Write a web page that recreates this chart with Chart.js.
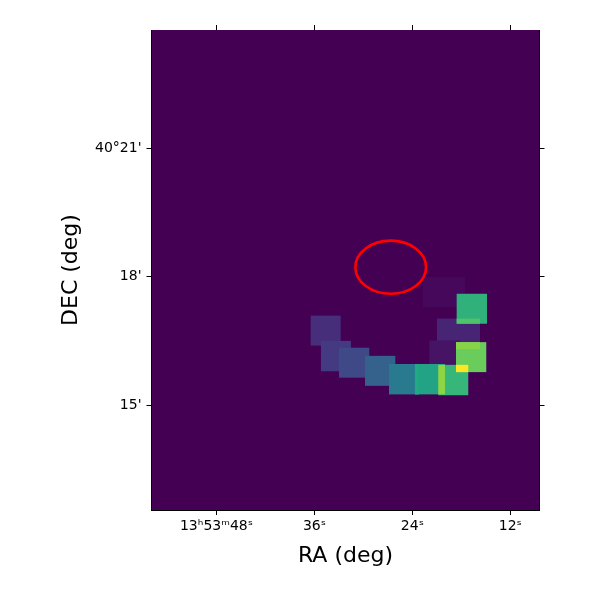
<!DOCTYPE html>
<html>
<head>
<meta charset="utf-8">
<script src="https://cdn.jsdelivr.net/npm/chart.js@4.4.0/dist/chart.umd.min.js"></script>
<style>
  html, body { margin: 0; padding: 0; background: #fff; }
</style>
</head>
<body>
<canvas id="sky" width="600" height="600"></canvas>
<script>
// RA in seconds past 13h53m, DEC in arcmin past 40deg
const raRange = [8.42, 55.96];
const decRange = [12.55, 23.76];
const raTicks = [48, 36, 24, 12];
const raTickLabels = ['13ʰ53ᵐ48ˢ', '36ˢ', '24ˢ', '12ˢ'];
const decTicks = [15, 18, 21];
const decTickLabels = ["15'", "18'", "40°21'"];

// image tiles: east/west RA edge, low/high DEC edge, level (0..1 of colour map)
const tileRaEast  = [22.70, 20.98, 21.92, 36.46, 35.20, 32.99, 29.80, 26.86, 23.68, 20.82, 18.65, 18.57];
const tileRaWest  = [17.55, 15.71, 18.10, 32.78, 31.52, 29.28, 26.09, 23.19, 20.00, 17.15, 14.94, 14.85];
const tileDecLow  = [17.29, 16.31, 15.79, 16.39, 15.79, 15.64, 15.45, 15.25, 15.25, 15.23, 15.77, 16.90];
const tileDecHigh = [17.99, 17.02, 16.51, 17.09, 16.50, 16.34, 16.15, 15.96, 15.96, 15.94, 16.47, 17.60];
const tileLevel   = [0.02, 0.10, 0.05, 0.13, 0.17, 0.22, 0.31, 0.41, 0.58, 0.66, 0.77, 0.64];

// where two tiles stack (indices into the tiles above) and the level there
const overlapA = [7, 8, 9, 11, 10];
const overlapB = [8, 9, 10, 1, 1];
const overlapLevel = [0.60, 0.83, 1.0, 0.72, 0.82];

// source region
const regionRa = 26.65, regionDec = 18.22;
const regionRaRadius = 4.33, regionDecRadius = 0.62;

// viridis stops
const cmap = ['#440154', '#482475', '#414487', '#355f8d', '#2a788e', '#21918c',
              '#22a884', '#44bf70', '#7ad151', '#bddf26', '#fde725'];

function hexRgb(h) {
  return [1, 3, 5].map(i => parseInt(h.substr(i, 2), 16));
}
function viridis(t) {
  t = Math.max(0, Math.min(1, t)) * (cmap.length - 1);
  const i = Math.min(Math.floor(t), cmap.length - 2);
  const f = t - i;
  const a = hexRgb(cmap[i]), b = hexRgb(cmap[i + 1]);
  const c = a.map((v, k) => Math.round(v + (b[k] - v) * f));
  return `rgb(${c[0]},${c[1]},${c[2]})`;
}

const imagePlugin = {
  id: 'image',
  beforeDatasetsDraw(chart) {
    const { ctx, chartArea: a, scales: { x, y } } = chart;
    ctx.save();
    ctx.beginPath();
    ctx.rect(a.left, a.top, a.right - a.left, a.bottom - a.top);
    ctx.clip();
    ctx.fillStyle = viridis(0);
    ctx.fillRect(a.left, a.top, a.right - a.left, a.bottom - a.top);

    const box = (east, west, lo, hi, lvl) => {
      const x0 = x.getPixelForValue(east), x1 = x.getPixelForValue(west);
      const y0 = y.getPixelForValue(hi), y1 = y.getPixelForValue(lo);
      ctx.fillStyle = viridis(lvl);
      ctx.fillRect(Math.min(x0, x1), y0, Math.abs(x1 - x0), y1 - y0);
    };
    tileLevel.forEach((lvl, i) => {
      box(tileRaEast[i], tileRaWest[i], tileDecLow[i], tileDecHigh[i], lvl);
    });
    overlapLevel.forEach((lvl, k) => {
      const i = overlapA[k], j = overlapB[k];
      box(Math.min(tileRaEast[i], tileRaEast[j]), Math.max(tileRaWest[i], tileRaWest[j]),
          Math.max(tileDecLow[i], tileDecLow[j]), Math.min(tileDecHigh[i], tileDecHigh[j]), lvl);
    });

    // red region ellipse
    const cx = x.getPixelForValue(regionRa), cy = y.getPixelForValue(regionDec);
    const rx = Math.abs(x.getPixelForValue(regionRa + regionRaRadius) - cx);
    const ry = Math.abs(y.getPixelForValue(regionDec + regionDecRadius) - cy);
    ctx.beginPath();
    ctx.ellipse(cx, cy, rx, ry, 0, 0, Math.PI * 2);
    ctx.strokeStyle = '#ff0000';
    ctx.lineWidth = 2.6;
    ctx.stroke();
    ctx.restore();
  }
};

Chart.defaults.font.family = 'DejaVu Sans';
Chart.defaults.color = '#000';

const tickGrid = { drawOnChartArea: false, drawTicks: true, tickLength: 5, color: '#000', lineWidth: 1 };
const frame = { display: true, color: '#000', width: 1 };

function raAxis(pos, labels) {
  return {
    type: 'linear', position: pos, reverse: true,
    min: raRange[0], max: raRange[1], z: 1,
    afterBuildTicks: s => { s.ticks = raTicks.map(v => ({ value: v })); },
    ticks: {
      display: labels, autoSkip: false, maxRotation: 0, padding: 3,
      font: { size: 14 },
      callback: v => raTickLabels[raTicks.indexOf(v)]
    },
    grid: tickGrid, border: frame,
    title: { display: labels, text: 'RA (deg)', font: { size: 22 }, padding: { top: 0, bottom: 31 } },
    afterFit: s => { s.height = labels ? 90 : 30; }
  };
}
function decAxis(pos, labels) {
  return {
    type: 'linear', position: pos,
    min: decRange[0], max: decRange[1], z: 1,
    afterBuildTicks: s => { s.ticks = decTicks.map(v => ({ value: v })); },
    ticks: {
      display: labels, autoSkip: false, padding: 5,
      font: { size: 14 },
      callback: v => decTickLabels[decTicks.indexOf(v)]
    },
    grid: tickGrid, border: frame,
    title: { display: labels, text: 'DEC (deg)', font: { size: 22 }, padding: { top: 58, bottom: 0 } },
    afterFit: s => { s.width = labels ? 151.5 : 60.5; }
  };
}

new Chart(document.getElementById('sky'), {
  type: 'scatter',
  data: { datasets: [] },
  options: {
    responsive: false,
    animation: false,
    devicePixelRatio: 1,
    layout: { padding: 0 },
    plugins: { legend: { display: false }, tooltip: { enabled: false } },
    scales: {
      x: raAxis('bottom', true),
      x2: raAxis('top', false),
      y: decAxis('left', true),
      y2: decAxis('right', false)
    }
  },
  plugins: [imagePlugin]
});
</script>
</body>
</html>
